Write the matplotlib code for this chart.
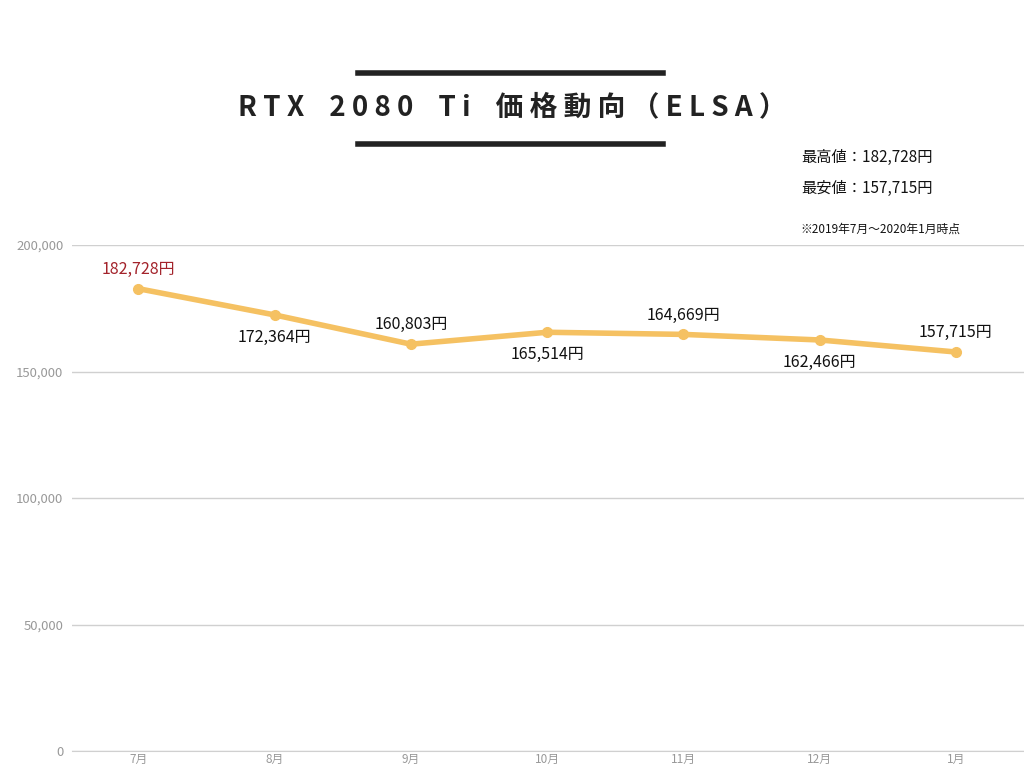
import matplotlib
matplotlib.use("Agg")
import matplotlib.pyplot as plt
from matplotlib.lines import Line2D

plt.rcParams["font.family"] = "Noto Sans CJK JP"

months = ["7月", "8月", "9月", "10月", "11月", "12月", "1月"]
prices = [182728, 172364, 160803, 165514, 164669, 162466, 157715]
label_above = [True, False, True, False, True, False, True]
yticks = [0, 50000, 100000, 150000, 200000]

fig = plt.figure(figsize=(10.24, 7.68), dpi=100)
ax = fig.add_axes([0.07, 0.022, 0.93, 0.659])
x = list(range(len(months)))
ax.plot(x, prices, color="#F5C162", lw=4, marker="o", ms=7, zorder=3)
ax.set_xlim(-0.49, 6.5)
ax.set_ylim(0, 200000)
ax.set_yticks(yticks)
ax.set_yticklabels([f"{v:,}" for v in yticks], color="#999999", fontsize=9.5)
ax.set_xticks(x)
ax.set_xticklabels(months, color="#999999", fontsize=8.5)
ax.tick_params(axis="x", length=0, pad=1)
ax.tick_params(axis="y", length=0, pad=6)
ax.grid(axis="y", color="#d0d0d0", lw=1)
ax.set_axisbelow(True)
for s in ax.spines.values():
    s.set_visible(False)
ax.spines["bottom"].set_visible(True)
ax.spines["bottom"].set_color("#d0d0d0")

imax = prices.index(max(prices))
for i, (v, up) in enumerate(zip(prices, label_above)):
    col = "#A3232B" if i == imax else "#111111"
    ax.annotate(f"{v:,}円", (i, v), xytext=(0, 14 if up else -16), textcoords="offset points",
                ha="center", va="center", fontsize=11.5, color=col)

title = "RTX 2080 Ti 価格動向（ELSA）"
spaced = " ".join(title).replace("   ", "    ")
fig.text(0.5, 0.861, spaced, ha="center", va="center",
         fontsize=20, fontweight="bold", color="#222222")
for yy in [0.905, 0.812]:
    fig.add_artist(Line2D([0.35, 0.647], [yy, yy], color="#222222", lw=4))
fig.text(0.782, 0.795, "最高値：182,728円", fontsize=11, va="center", color="#111111")
fig.text(0.782, 0.755, "最安値：157,715円", fontsize=11, va="center", color="#111111")
fig.text(0.782, 0.701, "※2019年7月〜2020年1月時点", fontsize=8.5, va="center", color="#111111")

fig.savefig("out.png", dpi=100, facecolor="white")
